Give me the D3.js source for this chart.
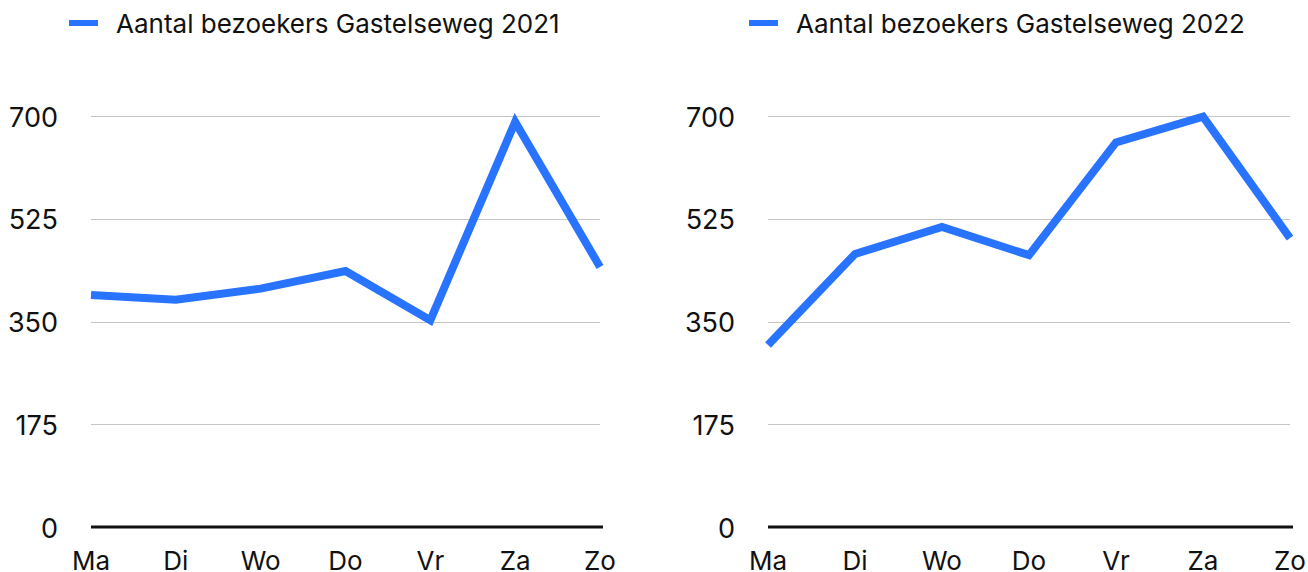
<!DOCTYPE html>
<html><head><meta charset="utf-8">
<script src="https://cdn.jsdelivr.net/npm/d3@7"></script>
<style>
html,body{margin:0;padding:0;background:#fff;}
svg text{font-family:Inter,"Noto Sans",sans-serif;fill:#111;}
</style></head>
<body><svg id="c" width="1308" height="572"></svg>
<script>
const days = ["Ma","Di","Wo","Do","Vr","Za","Zo"];
const visitors2021 = [395, 387, 406, 436, 352, 690, 443];
const visitors2022 = [310, 465, 511, 463, 655, 699, 492];
const yTicks = [0, 175, 350, 525, 700];
const titles = ["Aantal bezoekers Gastelseweg 2021", "Aantal bezoekers Gastelseweg 2022"];

const svg = d3.select("#c");
const panels = [
  {x0: 91, x1: 600, series: visitors2021, title: titles[0], legX: 69},
  {x0: 768, x1: 1290, series: visitors2022, title: titles[1], legX: 749}
];
const y = d3.scaleLinear().domain([0, 700]).range([527, 116]);

panels.forEach(p => {
  const g = svg.append("g");
  const x = d3.scalePoint().domain(days).range([p.x0, p.x1]);

  g.selectAll("line.grid").data(yTicks.filter(d => d > 0)).join("line")
    .attr("x1", p.x0).attr("x2", p.x1)
    .attr("y1", d => Math.round(y(d)) + 0.5).attr("y2", d => Math.round(y(d)) + 0.5)
    .attr("stroke", "#c4c4c4").attr("stroke-width", 1.2);

  g.selectAll("text.yl").data(yTicks).join("text")
    .attr("x", p.x0 - 33).attr("y", d => y(d) + 1)
    .attr("dy", "0.36em").attr("text-anchor", "end")
    .attr("font-size", 27).text(d => d);

  g.selectAll("text.xl").data(days).join("text")
    .attr("x", d => x(d)).attr("y", 570)
    .attr("text-anchor", "middle").attr("font-size", 26).text(d => d);

  g.append("line").attr("x1", p.x0).attr("x2", p.x1 + 3)
    .attr("y1", y(0)).attr("y2", y(0))
    .attr("stroke", "#111").attr("stroke-width", 3);

  const line = d3.line().x((d, i) => x(days[i])).y(d => y(d));
  g.append("path").datum(p.series).attr("d", line)
    .attr("fill", "none").attr("stroke", "#2873ff")
    .attr("stroke-width", 8).attr("stroke-linejoin", "miter");

  g.append("line").attr("x1", p.legX).attr("x2", p.legX + 29)
    .attr("y1", 23).attr("y2", 23)
    .attr("stroke", "#2873ff").attr("stroke-width", 6);
  g.append("text").attr("x", p.legX + 47).attr("y", 33)
    .attr("font-size", 26).text(p.title);
});
</script></body></html>
